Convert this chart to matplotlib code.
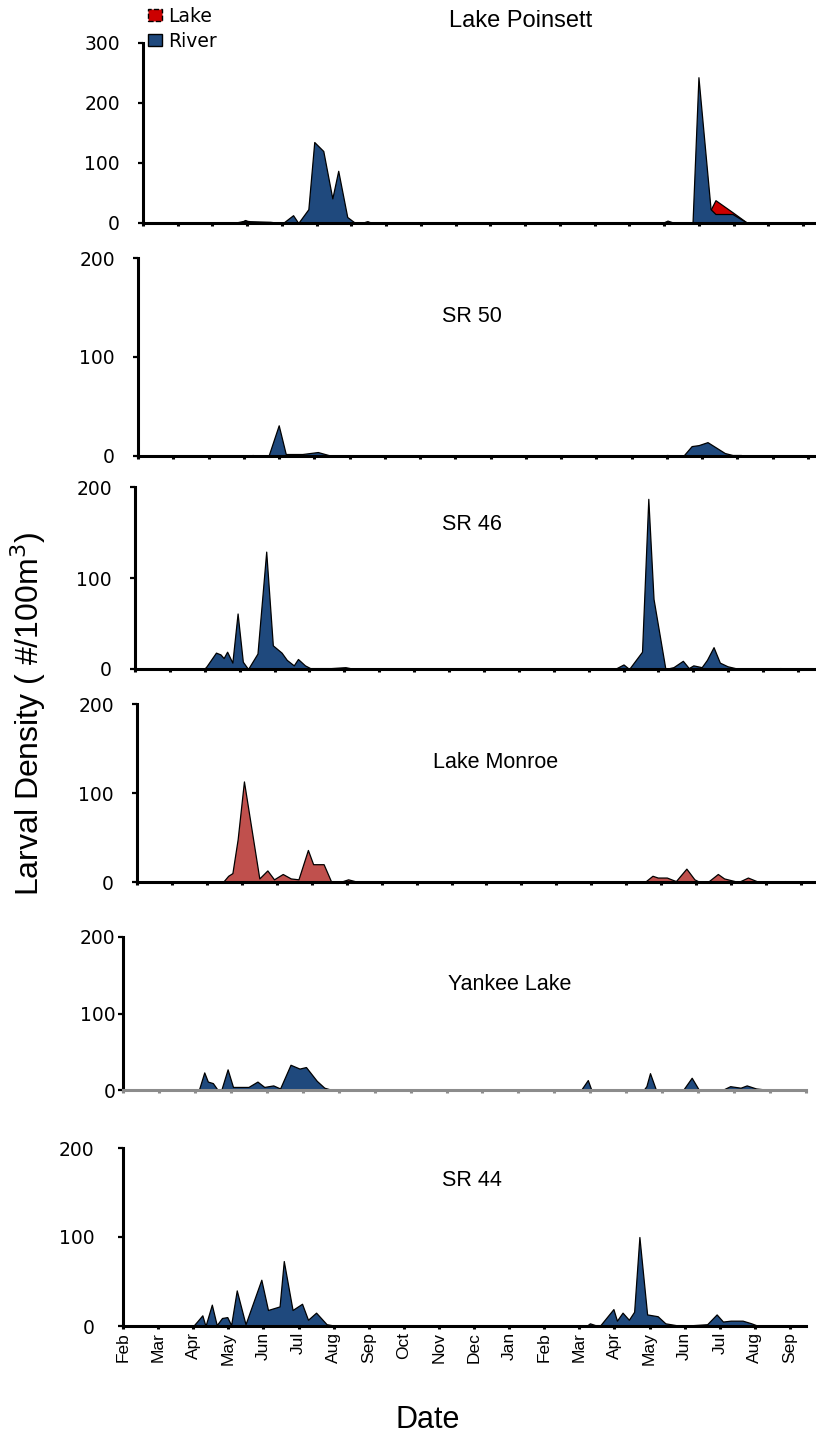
import numpy as np
import matplotlib
matplotlib.use("Agg")
import matplotlib.pyplot as plt
from matplotlib.patches import Patch

plt.rcParams['font.family'] = ['Liberation Sans', 'DejaVu Sans']

# ---------------- data (time in months since 1 Feb of first year) ----------------
month_labels = ['Feb', 'Mar', 'Apr', 'May', 'Jun', 'Jul', 'Aug', 'Sep', 'Oct', 'Nov',
                'Dec', 'Jan', 'Feb', 'Mar', 'Apr', 'May', 'Jun', 'Jul', 'Aug', 'Sep']

poinsett_river_t = [0, 2.6, 2.94, 3.08, 3.66, 3.95, 4.03, 4.32, 4.47, 4.76, 4.93, 5.19, 5.45,
                    5.62, 5.88, 6.11, 6.46, 6.6, 14.1, 14.32, 14.55, 14.95, 15.1, 15.3, 15.62,
                    15.82, 15.99, 16.34, 16.48, 16.97, 17.4, 19.3]
poinsett_river_v = [0, 0, 4, 3, 2, 0, 0, 13, 0, 23, 135, 120, 41,
                    87, 10, 0, 2, 0, 0, 1, 0, 0, 4, 0, 0,
                    1, 243, 23, 15, 15, 0, 0]
poinsett_lake_t = [0, 2.8, 2.94, 3.1, 6.3, 6.46, 6.6, 16.2, 16.34, 16.48, 16.97, 17.4, 19.3]
poinsett_lake_v = [0, 0, 5, 0, 0, 3, 0, 0, 22, 38, 18, 0, 0]

sr50_t = [0, 3.1, 3.25, 3.4, 3.7, 3.99, 4.19, 4.66, 5.1, 5.4, 5.55, 14.8, 15.0, 15.46,
          15.7, 15.9, 16.15, 16.64, 16.86, 17.1, 17.2, 19.2]
sr50_v = [0, 0, 1, 0, 0, 31, 2, 2, 4, 1, 0, 0, 1, 0,
          10, 11, 14, 3, 1, 1, 0, 0]

sr46_t = [0, 1.98, 2.05, 2.32, 2.45, 2.54, 2.64, 2.79, 2.94, 3.09, 3.24, 3.51, 3.76, 3.95,
          4.2, 4.35, 4.55, 4.67, 4.87, 5.02, 5.32, 5.62, 6.03, 6.29, 13.2, 13.8, 14.0, 14.16,
          14.53, 14.71, 14.86, 15.2, 15.43, 15.7, 15.87, 16.0, 16.24, 16.39, 16.58, 16.76,
          16.98, 17.2, 17.35, 18.5, 18.7, 19.5]
sr46_v = [0, 0, 3, 18, 16, 12, 19, 7, 61, 8, 0, 17, 129, 26,
          18, 10, 4, 11, 4, 1, 1, 1, 2, 0, 0, 1, 5, 0,
          19, 187, 77, 0, 2, 9, 1, 4, 2, 10, 24, 7,
          3, 1, 0, 1, 0, 0]

monroe_t = [0, 2.46, 2.61, 2.73, 2.88, 3.06, 3.5, 3.73, 3.92, 4.17, 4.4, 4.62, 4.89, 5.04,
            5.34, 5.56, 5.81, 6.04, 6.33, 13.93, 14.08, 14.53, 14.75, 14.9, 15.16, 15.42,
            15.72, 15.95, 16.1, 16.33, 16.62, 16.8, 17.21, 17.48, 17.73, 17.96, 18.55, 18.7, 19.4]
monroe_v = [0, 0, 7, 10, 48, 113, 4, 13, 3, 9, 4, 3, 36, 20,
            20, 0, 0, 3, 0, 0, 1, 0, 7, 5, 5, 1,
            15, 3, 0, 0, 9, 4, 0, 5, 1, 0, 1, 0, 0]

yankee_t = [0, 2.11, 2.26, 2.36, 2.5, 2.62, 2.74, 2.91, 3.06, 3.49, 3.74, 3.93, 4.18, 4.37,
            4.66, 4.91, 5.09, 5.39, 5.6, 5.82, 12.74, 12.93, 13.03, 14.48, 14.56, 14.66,
            14.82, 15.14, 15.58, 15.82, 16.01, 16.3, 16.67, 16.89, 17.18, 17.35, 17.61,
            17.9, 18.2, 19.0]
yankee_v = [0, 0, 23, 11, 9, 1, 1, 27, 4, 4, 11, 4, 6, 2,
            33, 28, 30, 12, 3, 0, 0, 13, 0, 0, 5, 22,
            1, 0.5, 0, 16, 1, 0, 0, 5, 3, 6, 2,
            0.5, 0, 0]

sr44_t = [0, 2.0, 2.11, 2.26, 2.35, 2.53, 2.67, 2.82, 2.97, 3.08, 3.24, 3.49, 3.94, 4.13,
          4.46, 4.58, 4.83, 5.1, 5.27, 5.5, 5.8, 6.09, 13.2, 13.3, 13.45, 13.6, 13.97, 14.07,
          14.23, 14.41, 14.56, 14.71, 14.93, 15.23, 15.45, 15.75, 16.05, 16.64, 16.91, 17.09,
          17.31, 17.65, 17.9, 18.1, 19.4]
sr44_v = [0, 0, 5, 12, 0, 24, 1, 9, 10, 1, 40, 2, 52, 18,
          22, 73, 18, 25, 7, 15, 2, 0, 0, 3, 1, 1, 19, 6,
          15, 7, 16, 100, 13, 11, 3, 1, 0.5, 2, 13, 5,
          6, 6, 3, 0, 0]

# ---------------- styles ----------------
RIVER = '#1F497D'
LAKE_BRIGHT = '#CC0000'
LAKE = '#C0504D'
WIDE_FONT = ['DejaVu Sans']

W, H = 816, 1438
fig = plt.figure(figsize=(W / 100, H / 100), dpi=100)


def make_axes(left, right, sep_x, y0, ytop, ymax, yticks, axis_color='black', ypad=13):
    ax = fig.add_axes([left / W, 1 - y0 / H, (right - left) / W, (y0 - ytop) / H])
    xmax = 19 * (right - left) / (sep_x - left)
    ax.set_xlim(0, xmax)
    ax.set_ylim(0, ymax)
    ax.set_xticks(np.arange(len(month_labels)))
    ax.set_yticks(yticks)
    for s in ('top', 'right'):
        ax.spines[s].set_visible(False)
    ax.spines['left'].set_linewidth(2.2)
    ax.spines['bottom'].set_linewidth(2.2)
    ax.spines['bottom'].set_color(axis_color)
    ax.tick_params(axis='x', direction='out', length=2.5, width=2.2, color=axis_color,
                   labelbottom=False)
    ax.tick_params(axis='y', direction='out', length=3.6, width=1.6, labelsize=13.5, pad=ypad)
    for lab in ax.get_yticklabels():
        lab.set_family(WIDE_FONT)
    ax.patch.set_alpha(0)
    return ax


def area(ax, t, v, color):
    ax.fill_between(t, v, 0, facecolor=color, edgecolor='black', linewidth=0.9, zorder=1)


# Panel 1: Lake Poinsett
ax1 = make_axes(143, 816, 803, 223, 43, 300, [0, 100, 200, 300])
area(ax1, poinsett_lake_t, poinsett_lake_v, LAKE_BRIGHT)
area(ax1, poinsett_river_t, poinsett_river_v, RIVER)

# Panel 2: SR 50
ax2 = make_axes(138, 816, 808, 456, 258, 200, [0, 100, 200])
area(ax2, sr50_t, sr50_v, RIVER)

# Panel 3: SR 46
ax3 = make_axes(135, 816, 798, 669, 487, 200, [0, 100, 200])
area(ax3, sr46_t, sr46_v, RIVER)

# Panel 4: Lake Monroe
ax4 = make_axes(137, 816, 801, 882, 704, 200, [0, 100, 200])
area(ax4, monroe_t, monroe_v, LAKE)

# Panel 5: Yankee Lake
ax5 = make_axes(123, 806, 806, 1090, 937, 200, [0, 100, 200], axis_color='#8C8C8C', ypad=2)
area(ax5, yankee_t, yankee_v, RIVER)

# Panel 6: SR 44
ax6 = make_axes(123, 806, 790, 1326, 1148, 200, [0, 100, 200], ypad=17)
area(ax6, sr44_t, sr44_v, RIVER)
ax6.tick_params(axis='x', labelbottom=True, labelsize=12.5, pad=2)
ax6.set_xticklabels(month_labels, rotation=90, va='top', ha='center')

# Titles
titles = [('Lake Poinsett', 521, 21, 17), ('SR 50', 472, 316, 15.5), ('SR 46', 472, 525, 15.5),
          ('Lake Monroe', 496, 763, 15.5), ('Yankee Lake', 510, 984, 15.5), ('SR 44', 472, 1181, 15.5)]
for txt, x, y, fs in titles:
    fig.text(x / W, 1 - y / H, txt, ha='center', va='center', fontsize=fs)

# Legend
handles = [Patch(facecolor=LAKE_BRIGHT, edgecolor='black', linestyle='--', linewidth=1.0, label='Lake'),
           Patch(facecolor=RIVER, edgecolor='black', linewidth=1.0, label='River')]
fig.legend(handles=handles, loc='upper left', bbox_to_anchor=(148 / W, 1 - 7 / H),
           frameon=False, prop={'family': WIDE_FONT, 'size': 13.5}, handlelength=0.75,
           handleheight=0.6, handletextpad=0.3, labelspacing=0.3, borderpad=0, borderaxespad=0)

# Axis labels
fig.text(28 / W, 1 - 714 / H, 'Larval Density ( #/100m$^3$)', rotation=90,
         ha='center', va='center', fontsize=23)
fig.text(428 / W, 1 - 1420 / H, 'Date', ha='center', va='center', fontsize=22)

fig.savefig('out.png', dpi=100)
